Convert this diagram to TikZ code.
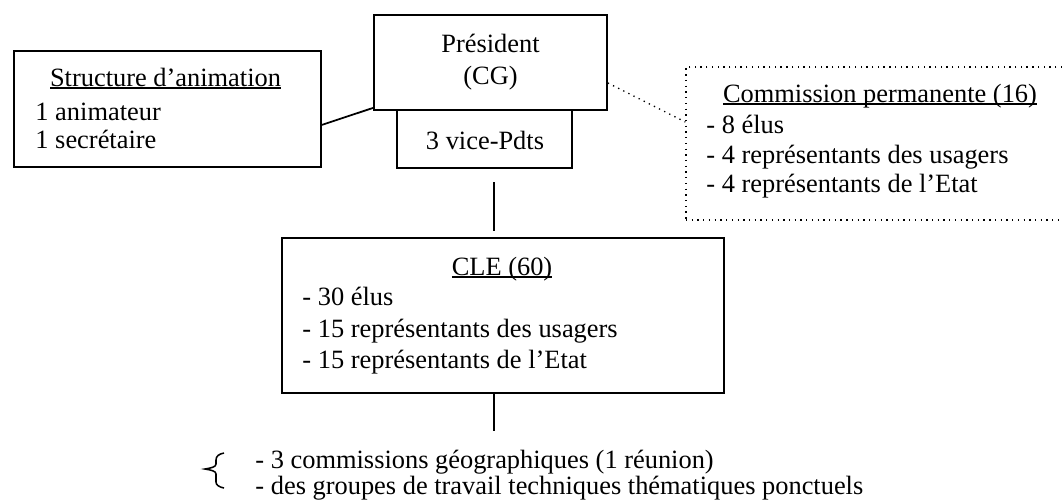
\documentclass[tikz,border=0pt]{standalone}
\usepackage{fontspec}
\setmainfont{Liberation Serif}
\usetikzlibrary{calc}
\newcommand\myul[1]{\setbox0\hbox{#1}\rlap{\rule[-1.4pt]{\wd0}{0.9pt}}\box0}
\begin{document}
\begin{tikzpicture}[x=0.4545pt,y=-0.4545pt,
  every node/.style={font=\fontsize{12}{14.4}\selectfont, inner sep=0pt},
  box/.style={draw, line width=0.8pt, rectangle},
  dotbox/.style={draw, line width=0.6pt, dotted, rectangle},
  link/.style={draw, line width=0.8pt},
  dotlink/.style={draw, line width=0.6pt, dotted},
  lbl/.style={anchor=base},
  item/.style={anchor=base west}]
\useasboundingbox (0,0) rectangle (1062,499);
\clip (0,0) rectangle (1062,499);
% boxes
\node[box, minimum width=307*0.4545pt, minimum height=116*0.4545pt] (struct) at (167.5,109) {};
\node[box, minimum width=233*0.4545pt, minimum height=95*0.4545pt] (pres) at (490.5,62.5) {};
\node[box, minimum width=175*0.4545pt, minimum height=58*0.4545pt] (vice) at (484.5,139) {};
\node[dotbox, minimum width=389*0.4545pt, minimum height=153*0.4545pt] (comm) at (880.5,143.5) {};
\node[box, minimum width=442*0.4545pt, minimum height=155*0.4545pt] (cle) at (503,315.5) {};
% texts
\node[lbl] (structT) at (165.5,86) {\myul{Structure d’animation}};
\node[item] (s1) at (35,120) {1 animateur};
\node[item] (s2) at (35,148) {1 secrétaire};
\node[lbl] (presT) at (490.5,52) {Président};
\node[lbl] (presT2) at (490.5,84) {(CG)};
\node[lbl] (viceT) at (485,149) {3 vice-Pdts};
\node[lbl] (commT) at (880,102) {\myul{Commission permanente (16)}};
\node[item] (c1) at (706,133) {- 8 élus};
\node[item] (c2) at (706,163) {- 4 représentants des usagers};
\node[item] (c3) at (706,192) {- 4 représentants de l’Etat};
\node[lbl] (cleT) at (502,275) {\myul{CLE (60)}};
\node[item] (e1) at (302,305) {- 30 élus};
\node[item] (e2) at (302,337) {- 15 représentants des usagers};
\node[item] (e3) at (302,368) {- 15 représentants de l’Etat};
\node[item] (b1) at (255,468) {- 3 commissions géographiques (1 réunion)};
\node[item] (b2) at (255,494) {- des groupes de travail techniques thématiques ponctuels};
% connectors
\draw[link] ([yshift=43*0.4545pt]struct.south east) -- ([yshift=3*0.4545pt]pres.south west);
\draw[dotlink] ([yshift=-20.5*0.4545pt]pres.east) -- ([yshift=21.5*0.4545pt]comm.west);
\coordinate (v1) at (494,182);
\coordinate (v2) at (494,231);
\draw[link] (v1) -- (v2);
\coordinate (w1) at (494,431);
\draw[link] (cle.south -| w1) -- (w1);
% brace
\draw[line width=0.7pt] (224,453) .. controls (219,454) and (216,456) .. (216,460)
  -- (216,464) .. controls (216,467) and (211,468) .. (205,469)
  .. controls (211,470) and (216,471) .. (216,474)
  -- (216,482) .. controls (216,485) and (219,487) .. (224,488);
\end{tikzpicture}
\end{document}
